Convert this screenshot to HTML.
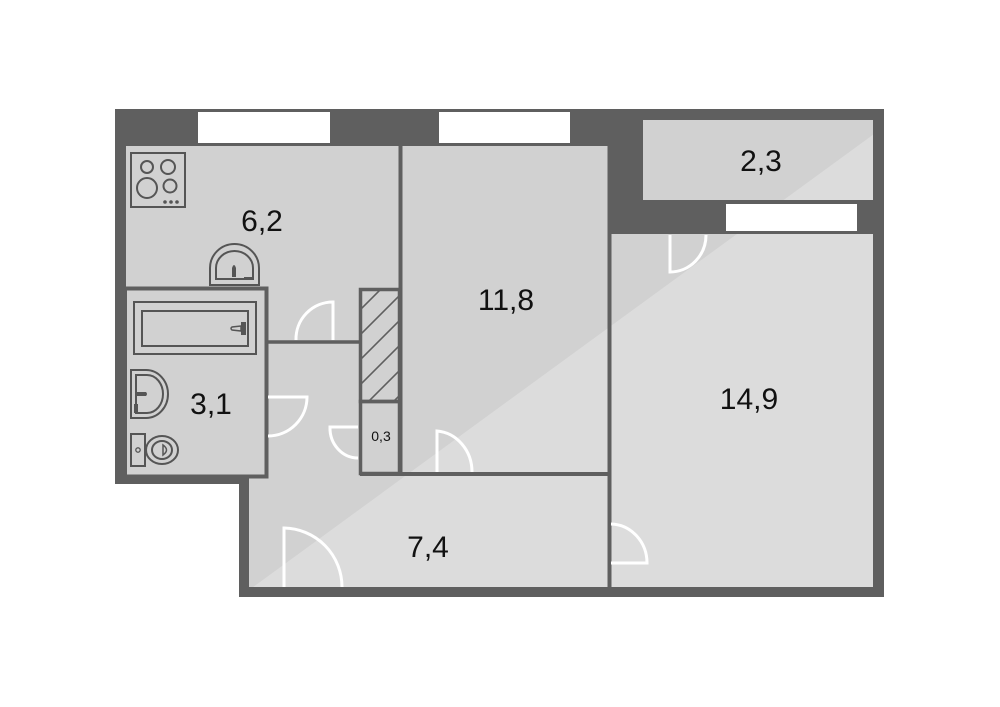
<!DOCTYPE html>
<html><head><meta charset="utf-8"><style>
html,body{margin:0;padding:0;background:#fff;}
svg{display:block;}
text{font-family:"Liberation Sans",sans-serif;fill:#111;}
</style></head><body>
<svg width="1000" height="707" viewBox="0 0 1000 707" xmlns="http://www.w3.org/2000/svg">
<defs>
<clipPath id="inner">
<rect x="126" y="146" width="482" height="330"/>
<rect x="249" y="474" width="359" height="113"/>
<rect x="611" y="234" width="262" height="353"/>
<rect x="643" y="120" width="230" height="80"/>
</clipPath>
<clipPath id="hc"><rect x="361" y="290" width="38" height="111"/></clipPath>
</defs>
<polygon points="115,109 884,109 884,597 239,597 239,484 115,484" fill="#5f5f5f"/>
<rect x="198" y="112" width="132" height="31" fill="#fff"/>
<rect x="439" y="112" width="131" height="31" fill="#fff"/>
<rect x="726" y="204" width="131" height="27" fill="#fff"/>
<g clip-path="url(#inner)">
<rect x="100" y="100" width="800" height="520" fill="#d1d1d1"/>
<polygon points="249,590 249,600 900,600 900,115" fill="#dcdcdc"/>
</g>
<g stroke="#5f5f5f" fill="none">
<rect x="125" y="288.5" width="141.5" height="188" stroke-width="4"/>
<line x1="115" y1="480" x2="249" y2="480" stroke-width="8"/>
<line x1="267" y1="342" x2="361" y2="342" stroke-width="3.5"/>
<line x1="400.5" y1="146" x2="400.5" y2="476" stroke-width="4"/>
<rect x="360.5" y="289.5" width="39" height="112" stroke-width="3.5"/>
<rect x="360.5" y="401.5" width="39" height="72" stroke-width="3.5"/>
<line x1="360" y1="474" x2="610" y2="474" stroke-width="4"/>
<line x1="609.5" y1="146" x2="609.5" y2="588" stroke-width="4"/>
</g>
<g clip-path="url(#hc)" stroke="#5f5f5f" stroke-width="1.6">
<line x1="340" y1="330" x2="420" y2="250"/>
<line x1="340" y1="355" x2="420" y2="275"/>
<line x1="340" y1="380" x2="420" y2="300"/>
<line x1="340" y1="405" x2="420" y2="325"/>
<line x1="340" y1="430" x2="420" y2="350"/>
<line x1="340" y1="455" x2="420" y2="375"/>
<line x1="340" y1="480" x2="420" y2="400"/>
</g>
<g stroke="#fff" stroke-width="3" fill="none">
<path d="M333,340 L333,302 A37,37 0 0 0 296,340"/>
<path d="M268,397 L307,397 A39,39 0 0 1 268,436"/>
<path d="M358,427 L330,427 A28,30 0 0 0 358,458"/>
<path d="M437,472 L437,431 A38,41 0 0 1 472,472"/>
<path d="M706,235 A36,37 0 0 1 670,272 L670,235"/>
<path d="M611,524 A37,39 0 0 1 647,563 L611,563"/>
<path d="M284,587 L284,528 A59,59 0 0 1 342,587"/>
</g>
<g stroke="#555" stroke-width="2" fill="none">
<rect x="131" y="153" width="54" height="54"/>
<circle cx="147" cy="167" r="6"/>
<circle cx="168" cy="167" r="7"/>
<circle cx="147" cy="188" r="10"/>
<circle cx="170" cy="186" r="6.5"/>
<path d="M210,285 L210,268 A24.5,24 0 0 1 259,268 L259,285 Z"/>
<path d="M216,279 L216,268 A18.5,17 0 0 1 253,268 L253,279 Z"/>
<rect x="134" y="302" width="122" height="52"/>
<rect x="142" y="311" width="106" height="35"/>
<path d="M131,370 L146,370 A22,24 0 0 1 146,418 L131,418 Z"/>
<path d="M136,375 L147,375 A16,19 0 0 1 147,413 L136,413 Z"/>
<rect x="131" y="434" width="14" height="32"/>
<ellipse cx="162" cy="450" rx="16" ry="14"/>
<ellipse cx="162" cy="450" rx="10" ry="9"/>
</g>
<g fill="#555">
<circle cx="165" cy="202" r="1.8"/><circle cx="171" cy="202" r="1.8"/><circle cx="177" cy="202" r="1.8"/>
<path d="M232,277 L232,268 Q234,262 236,268 L236,277 Z"/>
<rect x="244" y="277" width="10" height="2"/>
<rect x="241" y="322" width="5" height="13"/>
<path d="M241,326 L232,327 Q230,328.5 232,330 L241,331 Z" fill="none" stroke="#555" stroke-width="1.5"/>
<path d="M136,392 L146,392 Q148,394 146,396 L136,396 Z"/>
<rect x="134" y="404" width="1" height="9"/><rect x="137" y="404" width="1" height="9"/>
<circle cx="138" cy="450" r="2.2" fill="none" stroke="#555" stroke-width="1.3"/>
<path d="M163,445 Q170,450 163,455 Z" fill="none" stroke="#555" stroke-width="1.5"/>
</g>
<text x="262" y="231" font-size="30" text-anchor="middle">6,2</text>
<text x="506" y="310" font-size="30" text-anchor="middle">11,8</text>
<text x="761" y="171" font-size="30" text-anchor="middle">2,3</text>
<text x="749" y="409" font-size="30" text-anchor="middle">14,9</text>
<text x="428" y="557" font-size="30" text-anchor="middle">7,4</text>
<text x="211" y="414" font-size="30" text-anchor="middle">3,1</text>
<text x="381" y="441" font-size="14" text-anchor="middle">0,3</text>
</svg>
</body></html>
